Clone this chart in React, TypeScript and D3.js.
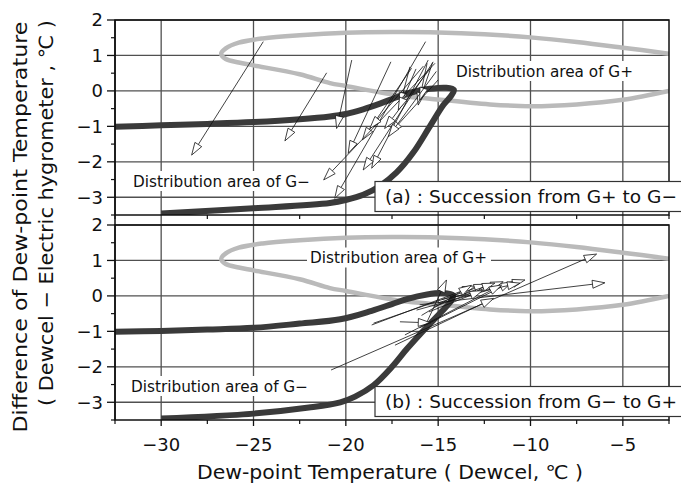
import React from 'react';
import * as d3 from 'd3';

// ---- data ----
const xDomain: [number, number] = [-32.5, -2.5];
const yDomain: [number, number] = [-3.5, 2];
const xMajorTicks = [-30, -25, -20, -15, -10, -5];
const xMinorTicks = [-32.5, -27.5, -22.5, -17.5, -12.5, -7.5, -2.5];
const yMajorTicks = [-3, -2, -1, 0, 1, 2];
const yMinorTicks = [-3.5, -2.5, -1.5, -0.5, 0.5, 1.5];

// Distribution area of G+ (closed lens, cut at the right edge)
const ellipseG: [number, number][] = [
  [-2.5, 1.05], [-5, 1.22], [-7.5, 1.38], [-10, 1.51], [-12.5, 1.6], [-15, 1.65],
  [-17.5, 1.66], [-20, 1.64], [-22.5, 1.57], [-24.5, 1.48], [-25.8, 1.36], [-26.5, 1.2],
  [-26.75, 1.05], [-26.5, 0.9], [-25.8, 0.8], [-25, 0.72], [-22.5, 0.47], [-20.86, 0.22],
  [-20, 0.14], [-17.25, -0.12], [-15.45, -0.22], [-12.2, -0.38], [-10, -0.43],
  [-7.5, -0.38], [-5, -0.25], [-2.5, 0.0],
];

// Boundary of G- (hook shaped), panel (a)
const curveA: [number, number][] = [
  [-32.5, -1.01], [-30, -0.97], [-27.5, -0.93], [-25, -0.88], [-22.5, -0.8], [-20.86, -0.72],
  [-20, -0.65], [-19.06, -0.52], [-18.15, -0.36], [-17.25, -0.18], [-16.35, -0.03],
  [-15.45, 0.06], [-14.6, 0.09], [-14.15, 0.03], [-14.3, -0.14], [-14.72, -0.4],
  [-15.45, -1.0], [-16.35, -1.74], [-17.25, -2.3], [-18.15, -2.68], [-19.06, -2.93],
  [-19.96, -3.07], [-20.86, -3.16], [-25, -3.31], [-30, -3.46],
];
// Boundary of G-, panel (b)
const curveB: [number, number][] = [
  [-32.5, -1.01], [-30, -0.99], [-27.5, -0.95], [-25, -0.9], [-22.5, -0.78], [-20.3, -0.66],
  [-18.6, -0.42], [-17.5, -0.23], [-16.7, -0.09], [-15.6, 0.04], [-14.8, 0.08],
  [-14.2, 0.02], [-14.3, -0.14], [-14.9, -0.49], [-15.6, -0.87], [-16.7, -1.5],
  [-17.5, -2.0], [-18.5, -2.52], [-19.5, -2.84], [-20.3, -3.0], [-22, -3.15],
  [-25, -3.32], [-30, -3.46],
];

// Arrows [x0, y0, x1, y1]: (a) succession from G+ to G-
const arrowsA: [number, number, number, number][] = [
  [-24.47, 1.39, -28.35, -1.81],
  [-21.04, 0.51, -23.3, -1.41],
  [-19.68, 0.87, -20.5, -1.06],
  [-17.56, 0.82, -19.87, -1.76],
  [-15.68, 1.39, -20.6, -3.03],
  [-16.53, 0.68, -17.07, -0.4],
  [-16.44, 0.64, -19.1, -1.38],
  [-15.54, 0.87, -18.6, -2.18],
  [-15.27, 0.82, -19.06, -2.23],
  [-15.17, 0.78, -21.2, -2.51],
  [-15.6, 0.78, -16.08, -0.4],
  [-15.3, 0.8, -16.0, -0.26],
  [-15.0, 0.31, -17.6, -1.2],
  [-15.1, 0.55, -17.7, -1.29],
  [-15.4, 0.65, -17.9, -1.06],
  [-15.8, 0.7, -18.7, -1.06],
  [-16.2, 0.62, -17.16, -0.54],
];
// (b) succession from G- to G+
const arrowsB: [number, number, number, number][] = [
  [-20.8, -2.09, -6.42, 1.18],
  [-16.0, -0.25, -5.97, 0.37],
  [-18.6, -0.82, -13.0, 0.28],
  [-17.07, -0.73, -15.4, -0.76],
  [-17.34, -1.39, -12.0, -0.07],
  [-18.5, -0.77, -12.38, 0.33],
  [-16.17, -0.4, -10.3, 0.45],
  [-15.6, -0.73, -14.55, 0.45],
  [-16.0, -0.9, -11.0, 0.4],
  [-15.2, -0.3, -11.48, 0.4],
  [-14.8, -0.1, -10.57, 0.36],
  [-15.0, -0.2, -11.93, 0.36],
  [-16.8, -1.1, -11.56, 0.31],
  [-15.9, -0.55, -13.2, 0.3],
  [-15.5, -0.45, -12.6, 0.15],
];

const panelTitles = ['(a) : Succession from G+ to G\u2212', '(b) : Succession from G\u2212 to G+'];
const labelGplus = 'Distribution area of G+';
const labelGminus = 'Distribution area of G\u2212';
const xTitle = 'Dew-point Temperature ( Dewcel, \u2103 )';
const yTitle1 = 'Difference of Dew-point Temperature';
const yTitle2 = '( Dewcel \u2212 Electric hygrometer , \u2103 )';

const FONT = "'DejaVu Sans', 'Liberation Sans', sans-serif";
const fmt = (v: number) => (v < 0 ? '\u2212' + Math.abs(v) : String(v));

export default function App() {
  const W = 681, H = 489;
  const L = 115, R = 669;
  const x = d3.scaleLinear().domain(xDomain).range([L, R]);
  const yA = d3.scaleLinear().domain(yDomain).range([215, 20]);
  const yB = d3.scaleLinear().domain(yDomain).range([420, 225]);

  const panels = [
    { y: yA, curve: curveA, arrows: arrowsA, title: panelTitles[0],
      gPlus: { x: 456, cy: 71 }, gMinus: { x: 133, cy: 181 } },
    { y: yB, curve: curveB, arrows: arrowsB, title: panelTitles[1],
      gPlus: { x: 310, cy: 257.5 }, gMinus: { x: 131, cy: 386 } },
  ];

  const arrow = (a: [number, number, number, number], y: d3.ScaleLinear<number, number>, k: number) => {
    const x0 = x(a[0]), y0 = y(a[1]), x1 = x(a[2]), y1 = y(a[3]);
    const dx = x1 - x0, dy = y1 - y0;
    const len = Math.hypot(dx, dy);
    const ux = dx / len, uy = dy / len;
    const hl = 12.5, hw = 4;
    const bx = x1 - ux * hl, by = y1 - uy * hl;
    const p1 = [bx - uy * hw, by + ux * hw];
    const p2 = [bx + uy * hw, by - ux * hw];
    return (
      <g key={k}>
        <line x1={x0} y1={y0} x2={bx} y2={by} stroke="#111" strokeWidth={0.8} />
        <polygon points={`${x1},${y1} ${p1[0]},${p1[1]} ${p2[0]},${p2[1]}`} fill="#fff" stroke="#111" strokeWidth={0.8} strokeLinejoin="miter" />
      </g>
    );
  };

  const areaLabel = (text: string, px: number, cy: number, k: string) => (
    <g key={k}>
      <rect x={px - 3} y={cy - 10} width={184} height={20} fill="#fff" />
      <text x={px} y={cy} dy="0.36em" fontSize={15.5} fontFamily={FONT} textLength={177} lengthAdjust="spacingAndGlyphs" fill="#111">{text}</text>
    </g>
  );

  return (
    <svg width={W} height={H} style={{ position: 'absolute', left: 0, top: 0, background: '#fff' }}>
      <defs>
        {panels.map((p, i) => (
          <clipPath id={`clip${i}`} key={i}>
            <rect x={L} y={p.y(2)} width={R - L} height={p.y(-3.5) - p.y(2)} />
          </clipPath>
        ))}
      </defs>
      <rect width={W} height={H} fill="#fff" />

      {/* vertical gridlines through both panels */}
      {xMajorTicks.map((t) => (
        <line key={'vg' + t} x1={x(t)} x2={x(t)} y1={yA(2)} y2={yB(-3.5)} stroke="#505050" strokeWidth={1.3} />
      ))}

      {panels.map((p, i) => {
        const line = d3.line<[number, number]>().x((d) => x(d[0])).y((d) => p.y(d[1])).curve(d3.curveCatmullRom.alpha(0.5));
        return (
          <g key={'panel' + i}>
            {yMajorTicks.map((t) => (
              <line key={'hg' + t} x1={L} x2={R} y1={p.y(t)} y2={p.y(t)} stroke="#505050" strokeWidth={1.3} />
            ))}
            <g clipPath={`url(#clip${i})`}>
              <path d={line(ellipseG) || ''} fill="none" stroke="#bababa" strokeWidth={4.5} />
              <path d={line(p.curve) || ''} fill="none" stroke="#3a3a3a" strokeWidth={6} />
            </g>
            {areaLabel(labelGplus, p.gPlus.x, p.gPlus.cy, 'gp')}
            {areaLabel(labelGminus, p.gMinus.x, p.gMinus.cy, 'gm')}
            <g clipPath={`url(#clip${i})`}>
              {p.arrows.map((a, k) => arrow(a, p.y, k))}
            </g>
            <rect x={L} y={p.y(2)} width={R - L} height={p.y(-3.5) - p.y(2)} fill="none" stroke="#111" strokeWidth={1.5} />
            {/* y ticks */}
            {yMajorTicks.map((t) => (
              <g key={'yt' + t}>
                <line x1={L - 8} x2={L} y1={p.y(t)} y2={p.y(t)} stroke="#111" strokeWidth={1.3} />
                <text x={103} y={p.y(t)} dy="0.36em" textAnchor="end" fontSize={18} fontFamily={FONT} fill="#111">{fmt(t)}</text>
              </g>
            ))}
            {yMinorTicks.map((t) => (
              <line key={'ym' + t} x1={L - 4} x2={L} y1={p.y(t)} y2={p.y(t)} stroke="#111" strokeWidth={1.2} />
            ))}
            {/* panel title box */}
            <rect x={375} y={p.y(-3.5) - 33.5} width={320} height={30} fill="#fff" stroke="#333" strokeWidth={1.2} />
            <text x={385} y={p.y(-3.5) - 18.5} dy="0.36em" fontSize={18.5} fontFamily={FONT} textLength={292} lengthAdjust="spacingAndGlyphs" fill="#111">{p.title}</text>
          </g>
        );
      })}

      {/* left axis spine */}
      <line x1={L} x2={L} y1={yA(2)} y2={yB(-3.5)} stroke="#111" strokeWidth={1.5} />
      {/* minor ticks under panel (a) */}
      {xMinorTicks.map((t) => (
        <line key={'xa' + t} x1={x(t)} x2={x(t)} y1={yA(-3.5)} y2={yA(-3.5) + 4} stroke="#111" strokeWidth={1.2} />
      ))}
      {/* bottom x axis ticks */}
      {xMajorTicks.map((t) => (
        <g key={'xt' + t}>
          <line x1={x(t)} x2={x(t)} y1={yB(-3.5)} y2={yB(-3.5) + 6} stroke="#111" strokeWidth={1.3} />
          <text x={x(t)} y={445} dy="0.36em" textAnchor="middle" fontSize={18} fontFamily={FONT} fill="#111">{fmt(t)}</text>
        </g>
      ))}
      {xMinorTicks.map((t) => (
        <line key={'xb' + t} x1={x(t)} x2={x(t)} y1={yB(-3.5)} y2={yB(-3.5) + 4} stroke="#111" strokeWidth={1.2} />
      ))}

      {/* axis titles */}
      <text x={390} y={472} dy="0.36em" textAnchor="middle" fontSize={19} fontFamily={FONT} textLength={386} lengthAdjust="spacingAndGlyphs" fill="#111">{xTitle}</text>
      <text transform="translate(27,227) rotate(-90)" textAnchor="middle" fontSize={19.5} fontFamily={FONT} textLength={411} lengthAdjust="spacingAndGlyphs" fill="#111">{yTitle1}</text>
      <text transform="translate(53,213) rotate(-90)" textAnchor="middle" fontSize={19.5} fontFamily={FONT} textLength={386} lengthAdjust="spacingAndGlyphs" fill="#111">{yTitle2}</text>
    </svg>
  );
}
